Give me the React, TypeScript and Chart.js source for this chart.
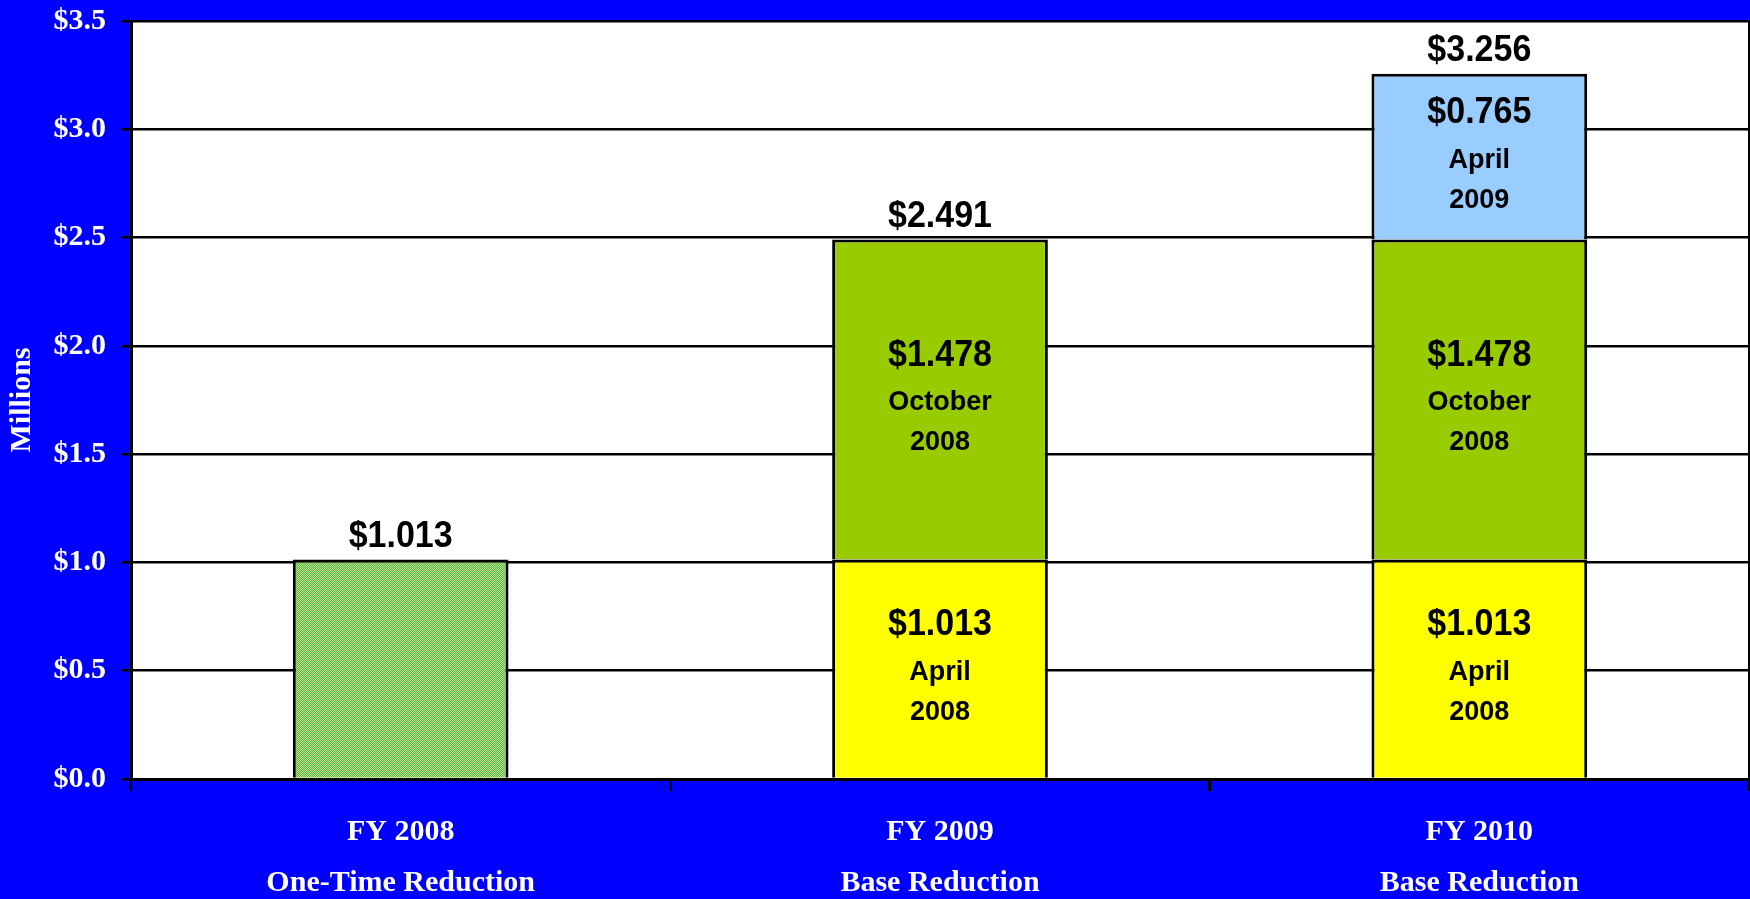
import React, { useEffect, useRef } from "react";
import { Chart, registerables } from "chart.js";

Chart.register(...registerables);

const categories: string[][] = [
  ["FY 2008", "One-Time Reduction"],
  ["FY 2009", "Base Reduction"],
  ["FY 2010", "Base Reduction"],
];
const oneTime: (number | null)[] = [1.013, null, null];
const april2008: (number | null)[] = [null, 1.013, 1.013];
const october2008: (number | null)[] = [null, 1.478, 1.478];
const april2009: (number | null)[] = [null, null, 0.765];
const segmentLabels: string[][] = [[], ["April", "2008"], ["October", "2008"], ["April", "2009"]];
const yTicks: number[] = [0, 0.5, 1, 1.5, 2, 2.5, 3, 3.5];

function makePattern(): CanvasPattern | string {
  const c = document.createElement("canvas");
  c.width = 2;
  c.height = 2;
  const g = c.getContext("2d");
  if (!g) return "#8ccc6c";
  g.fillStyle = "#5cb454";
  g.fillRect(0, 0, 2, 2);
  g.fillStyle = "#bce47c";
  g.fillRect(0, 0, 1, 1);
  g.fillRect(1, 1, 1, 1);
  const p = g.createPattern(c, "repeat");
  return p || "#8ccc6c";
}

export default function App() {
  const ref = useRef<HTMLCanvasElement | null>(null);

  useEffect(() => {
    const canvas = ref.current;
    if (!canvas) return;
    const pattern = makePattern();

    const bgPlugin = {
      id: "bg",
      beforeDraw(chart: any) {
        const { ctx, chartArea } = chart;
        ctx.save();
        ctx.fillStyle = "#0000ff";
        ctx.fillRect(0, 0, chart.width, chart.height);
        ctx.fillStyle = "#ffffff";
        ctx.fillRect(chartArea.left, chartArea.top, chartArea.right - chartArea.left, chartArea.bottom - chartArea.top);
        ctx.restore();
      },
      afterDraw(chart: any) {
        const { ctx, chartArea } = chart;
        ctx.save();
        ctx.strokeStyle = "#000000";
        ctx.lineWidth = 2;
        ctx.beginPath();
        ctx.moveTo(chartArea.right, chartArea.top);
        ctx.lineTo(chartArea.right, chartArea.bottom);
        ctx.stroke();
        ctx.restore();
      },
    };

    const drawStretched = (ctx: any, text: string, x: number, y: number, s: number) => {
      ctx.save();
      ctx.translate(x, y);
      ctx.scale(1, s);
      ctx.fillText(text, 0, 0);
      ctx.restore();
    };

    const labelPlugin = {
      id: "labels",
      afterDatasetsDraw(chart: any) {
        const { ctx } = chart;
        ctx.save();
        ctx.fillStyle = "#000000";
        ctx.textAlign = "center";
        ctx.textBaseline = "middle";
        const n = categories.length;
        const tops: number[] = new Array(n).fill(Infinity);
        const totals: number[] = new Array(n).fill(0);
        const tx: number[] = new Array(n).fill(0);
        chart.data.datasets.forEach((ds: any, di: number) => {
          const meta = chart.getDatasetMeta(di);
          ds.data.forEach((v: number | null, j: number) => {
            if (v == null) return;
            const el = meta.data[j];
            totals[j] += v;
            if (el.y < tops[j]) tops[j] = el.y;
            tx[j] = el.x;
            const lines = segmentLabels[di];
            if (lines.length) {
              const cy = (el.y + el.base) / 2;
              ctx.font = "bold 34px 'Liberation Sans', Arial, sans-serif";
              drawStretched(ctx, "$" + v.toFixed(3), el.x, cy - 44, 1.1);
              ctx.font = "bold 27px 'Liberation Sans', Arial, sans-serif";
              drawStretched(ctx, lines[0], el.x, cy + 3, 1.05);
              drawStretched(ctx, lines[1], el.x, cy + 43, 1.05);
            }
          });
        });
        ctx.font = "bold 34px 'Liberation Sans', Arial, sans-serif";
        for (let j = 0; j < n; j++) {
          drawStretched(ctx, "$" + totals[j].toFixed(3), tx[j], tops[j] - 23, 1.1);
        }
        ctx.restore();
      },
    };

    const chart = new Chart(canvas, {
      type: "bar",
      data: {
        labels: categories,
        datasets: [
          { label: "One-Time", data: oneTime, backgroundColor: pattern as any, borderColor: "#000000", borderWidth: 3, borderSkipped: "bottom" },
          { label: "April 2008", data: april2008, backgroundColor: "#ffff00", borderColor: "#000000", borderWidth: 3, borderSkipped: "bottom" },
          { label: "October 2008", data: october2008, backgroundColor: "#99cc00", borderColor: "#000000", borderWidth: 3, borderSkipped: "bottom" },
          { label: "April 2009", data: april2009, backgroundColor: "#99ccff", borderColor: "#000000", borderWidth: 3, borderSkipped: "bottom" },
        ],
      },
      options: {
        responsive: false,
        animation: false,
        devicePixelRatio: 1,
        layout: { padding: { top: 21, right: 1, left: 0, bottom: 0 } },
        plugins: { legend: { display: false }, tooltip: { enabled: false } },
        datasets: { bar: { barPercentage: 0.8, categoryPercentage: 0.5 } },
        scales: {
          x: {
            stacked: true,
            grid: { drawOnChartArea: false, drawTicks: true, tickLength: 12, color: "#000000", lineWidth: 3, offset: true },
            border: { display: true, color: "#000000", width: 3 },
            ticks: {
              color: "#ffffff",
              padding: 16,
              maxRotation: 0,
              font: { family: "'Liberation Serif', 'Times New Roman', serif", weight: "bold", size: 30, lineHeight: 1.7 },
            },
            afterFit(scale: any) {
              scale.height = 120;
              scale.paddingLeft = 0;
              scale.paddingRight = 0;
            },
          },
          y: {
            stacked: true,
            min: 0,
            max: 3.5,
            afterBuildTicks(scale: any) {
              scale.ticks = yTicks.map((v) => ({ value: v }));
            },
            grid: { color: "#000000", lineWidth: 2.5, tickLength: 10, drawTicks: true },
            border: { display: true, color: "#000000", width: 3 },
            ticks: {
              color: "#ffffff",
              padding: 15,
              font: { family: "'Liberation Serif', 'Times New Roman', serif", weight: "bold", size: 30 },
              callback: (v: any) => "$" + Number(v).toFixed(1),
            },
            title: {
              display: true,
              text: "Millions",
              color: "#ffffff",
              padding: { top: 4, bottom: 0 },
              font: { family: "'Liberation Serif', 'Times New Roman', serif", weight: "bold", size: 30 },
            },
            afterFit(scale: any) {
              scale.width = 131;
              scale.paddingTop = 0;
              scale.paddingBottom = 0;
            },
          },
        },
      },
      plugins: [bgPlugin, labelPlugin],
    });
    return () => chart.destroy();
  }, []);

  return (
    <div style={{ position: "fixed", left: 0, top: 0, width: 1750, height: 899, background: "#0000ff", overflow: "hidden" }}>
      <canvas ref={ref} width={1750} height={899} style={{ display: "block", width: 1750, height: 899 }} />
    </div>
  );
}
